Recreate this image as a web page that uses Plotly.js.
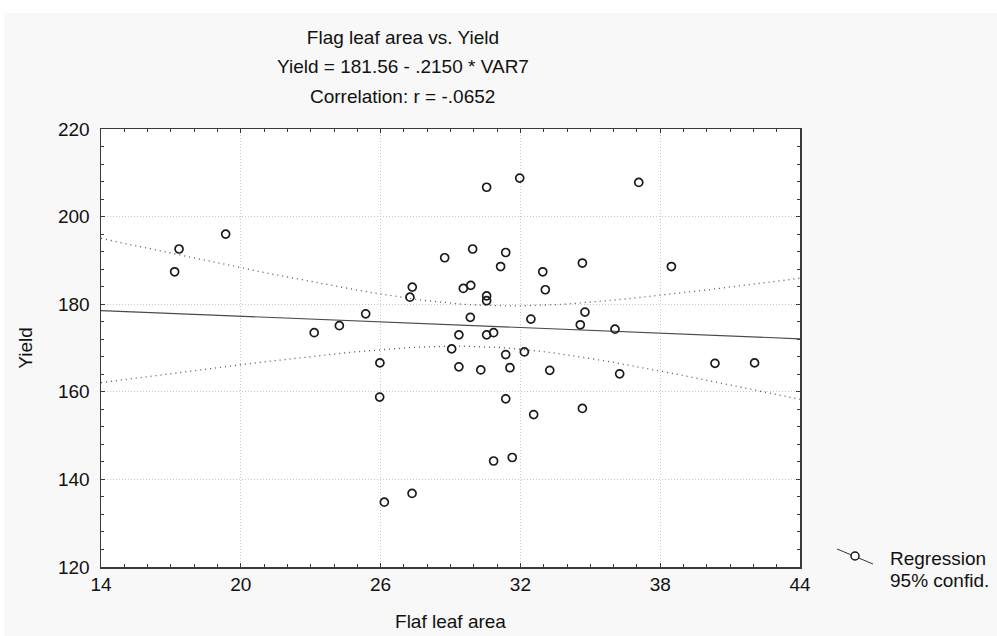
<!DOCTYPE html>
<html>
<head>
<meta charset="utf-8">
<script src="https://cdn.plot.ly/plotly-3.0.1.min.js"></script>
<style>
  html, body { margin: 0; padding: 0; background: #ffffff; }
  #chart { position: absolute; left: 4px; top: 13px; width: 993px; height: 623px; }
</style>
</head>
<body>
<div id="chart"></div>
<script>
// ---- Data ----
const flagLeafArea = [
  17.16, 17.35, 19.35, 23.15, 24.23, 25.36, 25.97, 25.96, 26.16, 27.35,
  27.26, 27.36, 28.75, 29.05, 29.36, 29.36, 29.55, 29.87, 29.85, 29.95,
  30.30, 30.55, 30.55, 30.55, 30.55, 30.85, 30.85, 31.15, 31.37, 31.37,
  31.37, 31.55, 31.65, 31.97, 32.17, 32.45, 32.57, 32.96, 33.07, 33.26,
  34.57, 34.66, 34.77, 34.66, 36.06, 36.26, 37.08, 38.48, 40.35, 42.05
];
const yieldValues = [
  187.4, 192.6, 196.0, 173.5, 175.1, 177.8, 166.6, 158.8, 134.8, 136.8,
  181.6, 183.9, 190.6, 169.8, 173.0, 165.7, 183.6, 184.3, 177.0, 192.6,
  165.0, 206.7, 181.9, 180.8, 173.0, 173.5, 144.2, 188.6, 191.8, 168.5,
  158.4, 165.5, 145.0, 208.8, 169.1, 176.6, 154.8, 187.4, 183.3, 164.9,
  175.3, 189.4, 178.2, 156.2, 174.3, 164.1, 207.8, 188.6, 166.5, 166.6
];
const regIntercept = 181.56;
const regSlope = -0.2150;
const tCrit = 2.0106; // t(0.975, df = 48)
const xTicks = [14, 20, 26, 32, 38, 44];
const yTicks = [120, 140, 160, 180, 200, 220];
const titleLines = ["Flag leaf area vs. Yield", "Yield = 181.56 - .2150 * VAR7", "Correlation: r = -.0652"];
const xLabel = "Flaf leaf area";
const yLabel = "Yield";
const legendLabels = ["Regression", "95% confid."];

// ---- Regression line and 95% confidence band, computed from the data ----
const n = flagLeafArea.length;
const xMean = flagLeafArea.reduce((a, b) => a + b, 0) / n;
let sxx = 0, sse = 0;
for (let i = 0; i < n; i++) {
  sxx += Math.pow(flagLeafArea[i] - xMean, 2);
  sse += Math.pow(yieldValues[i] - (regIntercept + regSlope * flagLeafArea[i]), 2);
}
const sRes = Math.sqrt(sse / (n - 2));
const xLo = xTicks[0], xHi = xTicks[xTicks.length - 1];
const gridX = [], fitY = [], upY = [], loY = [];
for (let k = 0; k <= 60; k++) {
  const x = xLo + (xHi - xLo) * k / 60;
  const fit = regIntercept + regSlope * x;
  const hw = tCrit * sRes * Math.sqrt(1 / n + Math.pow(x - xMean, 2) / sxx);
  gridX.push(x); fitY.push(fit); upY.push(fit + hw); loY.push(fit - hw);
}

const FONT = "'Liberation Sans', Arial, Helvetica, sans-serif";
const fs = 19;
const txt = { family: FONT, size: fs, color: '#111' };

const traces = [
  { x: gridX, y: upY, mode: 'lines', line: { color: '#555555', width: 1.3, dash: '1px,4px' }, hoverinfo: 'skip' },
  { x: gridX, y: loY, mode: 'lines', line: { color: '#555555', width: 1.3, dash: '1px,4px' }, hoverinfo: 'skip' },
  { x: gridX, y: fitY, mode: 'lines', line: { color: '#4a4a4a', width: 1.2 }, hoverinfo: 'skip' },
  { x: flagLeafArea, y: yieldValues, mode: 'markers',
    marker: { symbol: 'circle-open', size: 8, color: '#1a1a1a', line: { width: 1.7, color: '#1a1a1a' } } },
  // invisible trace so the mirrored top/right axes (carrying the minor ticks) are drawn
  { x: [xLo], y: [yTicks[0]], xaxis: 'x2', yaxis: 'y2', mode: 'markers', marker: { opacity: 0 }, hoverinfo: 'skip' }
];

const frame = {
  showline: true, linecolor: '#3a3a3a', linewidth: 1.5,
  ticks: 'inside', ticklen: 4, tickcolor: '#3a3a3a', tickwidth: 1,
  zeroline: false, tickfont: txt
};

const layout = {
  width: 993, height: 623,
  margin: { l: 97, r: 197, t: 116, b: 69 },
  paper_bgcolor: '#f8f8f8', plot_bgcolor: '#ffffff',
  showlegend: false,
  font: txt,
  title: { text: titleLines[0], x: 0.432, xref: 'paper', xanchor: 'center',
           y: 1 - 24 / 623, yref: 'container', yanchor: 'middle', font: txt },
  xaxis: Object.assign({}, frame, {
    range: [xLo, xHi], tickvals: xTicks, ticktext: xTicks.map(String),
    showgrid: true, gridcolor: '#c8c8c8', griddash: '1px,2px', gridwidth: 1,
    minor: { dtick: 1, tick0: 14, ticks: 'inside', ticklen: 3, tickcolor: '#3a3a3a', showgrid: false },
    title: { text: xLabel, font: txt, standoff: 20 }
  }),
  yaxis: Object.assign({}, frame, {
    range: [yTicks[0], yTicks[yTicks.length - 1]], tickvals: yTicks, ticktext: yTicks.map(String),
    showgrid: true, gridcolor: '#c8c8c8', griddash: '1px,2px', gridwidth: 1,
    minor: { dtick: 4, tick0: 120, ticks: 'inside', ticklen: 3, tickcolor: '#3a3a3a', showgrid: false },
    ticklabelstandoff: 6,
    title: { text: yLabel, font: txt, standoff: 20 }
  }),
  xaxis2: Object.assign({}, frame, {
    overlaying: 'x', side: 'top', matches: 'x', range: [xLo, xHi], tickvals: xTicks,
    showticklabels: false, showgrid: false,
    minor: { dtick: 1, tick0: 14, ticks: 'inside', ticklen: 3, tickcolor: '#3a3a3a', showgrid: false }
  }),
  yaxis2: Object.assign({}, frame, {
    overlaying: 'y', side: 'right', matches: 'y', range: [yTicks[0], yTicks[yTicks.length - 1]], tickvals: yTicks,
    showticklabels: false, showgrid: false,
    minor: { dtick: 4, tick0: 120, ticks: 'inside', ticklen: 3, tickcolor: '#3a3a3a', showgrid: false }
  }),
  annotations: [
    { text: titleLines[1], xref: 'paper', yref: 'paper', x: 0.432, y: 1.1416, xanchor: 'center', yanchor: 'middle', showarrow: false, font: txt },
    { text: titleLines[2], xref: 'paper', yref: 'paper', x: 0.432, y: 1.0731, xanchor: 'center', yanchor: 'middle', showarrow: false, font: txt },
    { text: legendLabels[0], xref: 'paper', yref: 'paper', x: 1.1259, y: 0.0205, xanchor: 'left', yanchor: 'middle', showarrow: false, font: txt },
    { text: legendLabels[1], xref: 'paper', yref: 'paper', x: 1.1259, y: -0.0297, xanchor: 'left', yanchor: 'middle', showarrow: false, font: txt }
  ],
  shapes: [
    { type: 'line', xref: 'paper', yref: 'paper', x0: 1.053, y0: 0.0411, x1: 1.1044, y1: 0.00685,
      line: { color: '#333', width: 1 } },
    { type: 'circle', xref: 'paper', yref: 'paper', xsizemode: 'pixel', ysizemode: 'pixel',
      xanchor: 1.0787, yanchor: 0.0251, x0: -4, x1: 4, y0: -4, y1: 4,
      fillcolor: '#ffffff', line: { color: '#1a1a1a', width: 1.5 } }
  ]
};

Plotly.newPlot('chart', traces, layout, { displayModeBar: false, staticPlot: true });
</script>
</body>
</html>
